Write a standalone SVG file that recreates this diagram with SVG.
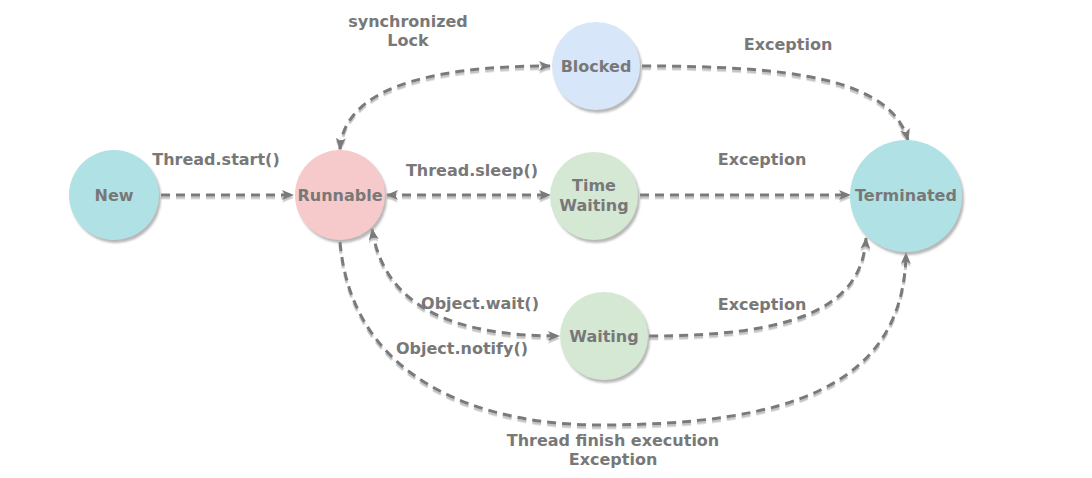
<svg xmlns="http://www.w3.org/2000/svg" width="1092" height="478" viewBox="0 0 1092 478">
<style>
text{font-family:"DejaVu Sans",Verdana,sans-serif;font-weight:bold;font-size:16px;fill:#787878;text-anchor:middle}
.node{stroke:none}
.c{fill:none;stroke:#7a7a7a;stroke-width:3;stroke-dasharray:9 6}
</style>
<defs>
<filter id="sh" x="-20%" y="-20%" width="150%" height="150%">
<feDropShadow dx="2" dy="3" stdDeviation="1" flood-color="#999" flood-opacity="0.7"/>
</filter>
<filter id="lsh" x="-10%" y="-10%" width="120%" height="130%">
<feDropShadow dx="0" dy="2.5" stdDeviation="0.4" flood-color="#c4c4c4" flood-opacity="1"/>
</filter>
<marker id="ae" viewBox="0 0 12 10" refX="11" refY="5" markerWidth="12" markerHeight="10" markerUnits="userSpaceOnUse" orient="auto">
<path d="M0,0 L12,5 L0,10 L3,5 z" fill="#7a7a7a"/>
</marker>
<marker id="as" viewBox="0 0 12 10" refX="1" refY="5" markerWidth="12" markerHeight="10" markerUnits="userSpaceOnUse" orient="auto">
<path d="M12,0 L0,5 L12,10 L9,5 z" fill="#7a7a7a"/>
</marker>
</defs>
<rect width="1092" height="478" fill="#fff"/>
<g id="connectors" filter="url(#lsh)">
<path class="c" d="M161,195 L293,195" marker-end="url(#ae)"/>
<path class="c" d="M340,149 C344,92 420,66 550,66" marker-start="url(#as)" marker-end="url(#ae)"/>
<path class="c" d="M387,195 L550,195" marker-start="url(#as)" marker-end="url(#ae)"/>
<path class="c" d="M640,195 L850,195" marker-end="url(#ae)"/>
<path class="c" d="M642,66 C790,66 890,78 908,140" marker-end="url(#ae)"/>
<path class="c" d="M372,229 C384,305 450,336 559,336" marker-start="url(#as)" marker-end="url(#ae)"/>
<path class="c" d="M649,336 C790,336 862,310 866,238" marker-end="url(#ae)"/>
<path class="c" d="M340,242 C352,380 480,425 600,425 C790,425 904,385 906,253" marker-end="url(#ae)"/>
</g>
<g id="new"><circle class="node" cx="114" cy="195" r="45" fill="#b0e2e5" filter="url(#sh)"/><text x="114" y="201">New</text></g>
<g id="runnable"><circle class="node" cx="340" cy="195" r="45" fill="#f6caca" filter="url(#sh)"/><text x="340" y="201">Runnable</text></g>
<g id="blocked"><circle class="node" cx="596" cy="66" r="44" fill="#d8e6f9" filter="url(#sh)"/><text x="596" y="72">Blocked</text></g>
<g id="timewaiting"><circle class="node" cx="594" cy="196" r="44" fill="#d5e8d4" filter="url(#sh)"/><text x="594" y="191">Time</text><text x="594" y="211">Waiting</text></g>
<g id="waiting"><circle class="node" cx="604" cy="336" r="44" fill="#d5e8d4" filter="url(#sh)"/><text x="604" y="342">Waiting</text></g>
<g id="terminated"><circle class="node" cx="906" cy="196" r="56" fill="#b0e2e5" filter="url(#sh)"/><text x="906" y="201">Terminated</text></g>
<g id="labels">
<text x="408" y="27">synchronized</text>
<text x="408" y="46">Lock</text>
<text x="216" y="165">Thread.start()</text>
<text x="788" y="50">Exception</text>
<text x="472" y="176">Thread.sleep()</text>
<text x="762" y="165">Exception</text>
<text x="762" y="310">Exception</text>
<text x="480" y="309">Object.wait()</text>
<text x="462" y="354">Object.notify()</text>
<text x="613" y="446">Thread finish execution</text>
<text x="613" y="465">Exception</text>
</g>
</svg>
